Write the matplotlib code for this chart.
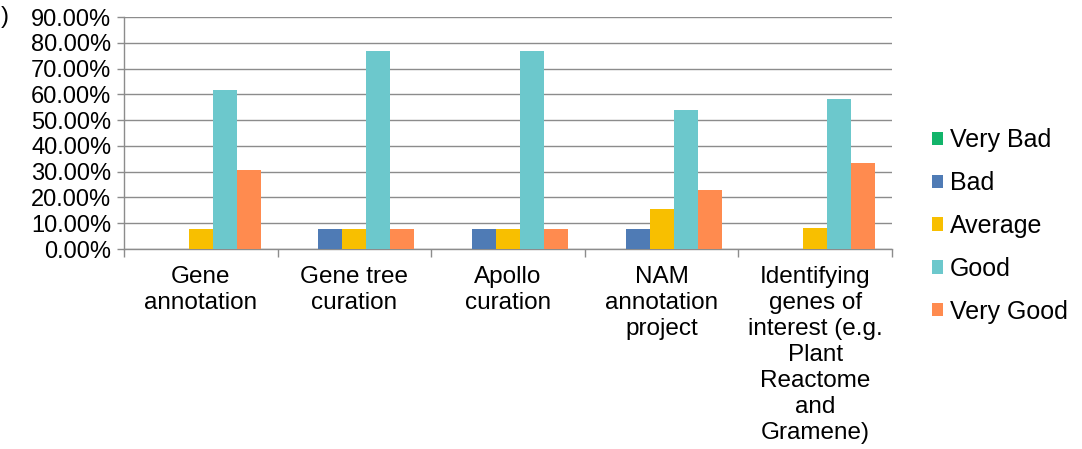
import matplotlib
matplotlib.use("Agg")
import matplotlib.pyplot as plt
import numpy as np
from matplotlib.ticker import FuncFormatter, MultipleLocator

plt.rcParams['font.family'] = ['Liberation Sans', 'DejaVu Sans']

categories = [
    "Gene\nannotation",
    "Gene tree\ncuration",
    "Apollo\ncuration",
    "NAM\nannotation\nproject",
    "Identifying\ngenes of\ninterest (e.g.\nPlant\nReactome\nand\nGramene)",
]
series_names = ["Very Bad", "Bad", "Average", "Good", "Very Good"]
very_bad = [0.0, 0.0, 0.0, 0.0, 0.0]
bad = [0.0, 7.69, 7.69, 7.69, 0.0]
average = [7.69, 7.69, 7.69, 15.38, 8.33]
good = [61.54, 76.92, 76.92, 53.85, 58.33]
very_good = [30.77, 7.69, 7.69, 23.08, 33.33]
colors = ["#12B46A", "#4F7BB5", "#F8BF00", "#6CC8CC", "#FF8B4F"]

series = [very_bad, bad, average, good, very_good]

fig = plt.figure(figsize=(10.82, 4.49), dpi=100)
ax = fig.add_axes([124 / 1082, 1 - 249 / 449, (892 - 124) / 1082, (249 - 17) / 449])

x = np.arange(len(categories))
bw = 0.156
for i, (vals, name, c) in enumerate(zip(series, series_names, colors)):
    ax.bar(x + (i - 2) * bw, vals, width=bw, color=c, label=name, zorder=3)

ax.set_xlim(-0.5, len(categories) - 0.5)
ax.set_ylim(0, 90)
ax.yaxis.set_major_locator(MultipleLocator(10))
ax.yaxis.set_major_formatter(FuncFormatter(lambda v, p: f"{v:.2f}%"))
ax.yaxis.grid(True, color="#8C8C8C", linewidth=1.0, zorder=0)
ax.set_axisbelow(True)

for s in ["top", "right"]:
    ax.spines[s].set_visible(False)
for s in ["left", "bottom"]:
    ax.spines[s].set_color("#8C8C8C")
    ax.spines[s].set_linewidth(1.0)

ax.tick_params(axis="y", length=5, width=1.0, color="#8C8C8C", labelsize=17, pad=4)
ax.set_xticks(np.arange(-0.5, len(categories)), minor=False)
ax.set_xticklabels([])
ax.set_xticks(x, minor=True)
ax.set_xticklabels(categories, minor=True, fontsize=17.5, linespacing=1.24, va="top")
ax.tick_params(axis="x", which="major", length=6, width=1.0, color="#8C8C8C")
ax.tick_params(axis="x", which="minor", length=0, pad=12)

leg = ax.legend(loc="center left", bbox_to_anchor=(932 / 1082, 1 - 226 / 449),
                bbox_transform=fig.transFigure, frameon=False, fontsize=18,
                handlelength=0.45, handleheight=0.45, handletextpad=0.25,
                labelspacing=0.75, borderpad=0, borderaxespad=0)

fig.text(0.5 / 1082, 1 - 17 / 449, ")", ha="left", va="center", fontsize=17)

fig.savefig("out.png", dpi=100)
